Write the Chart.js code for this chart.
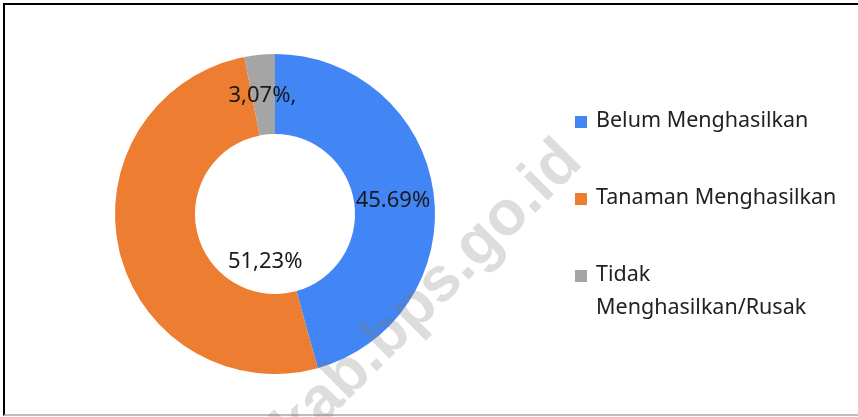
<!DOCTYPE html>
<html>
<head>
<meta charset="utf-8">
<script src="https://cdn.jsdelivr.net/npm/chart.js@4/dist/chart.umd.min.js"></script>
<style>
  html, body { margin: 0; padding: 0; background: #fff; }
  #wrap { position: relative; width: 858px; height: 417px; }
  #frame { position: absolute; left: 3px; top: 3px; width: 856px; height: 409px;
           border-top: 2px solid #000; border-left: 2px solid #000; border-bottom: 2px solid #bdbdbd; box-sizing: content-box; }
  #grafik { position: absolute; left: 0; top: 0; }
</style>
</head>
<body>
<div id="wrap">
  <div id="frame"></div>
  <canvas id="grafik" width="858" height="417"></canvas>
</div>
<script>
// Data
let kategori = ['Belum Menghasilkan', 'Tanaman Menghasilkan', 'Tidak Menghasilkan/Rusak'];
let baris = [['Belum Menghasilkan'], ['Tanaman Menghasilkan'], ['Tidak', 'Menghasilkan/Rusak']];
let persen = [45.69, 51.23, 3.07];
let labelTeks = ['45.69%', '51,23%', '3,07%,'];
let warna = ['#4285f4', '#ed7d31', '#a5a5a5'];

let fonte = "'Noto Sans', 'Open Sans', sans-serif";

// geser label dari titik tengah irisan
let geserLabel = [[-1, 3], [107, 20], [-1, 1]];

const pluginLabel = {
    id: 'labelIrisan',
    afterDatasetsDraw(chart) {
        const ctx = chart.ctx;
        const meta = chart.getDatasetMeta(0);
        ctx.save();
        ctx.font = '22px ' + fonte;
        ctx.fillStyle = '#1a1a1a';
        ctx.textAlign = 'center';
        ctx.textBaseline = 'middle';
        meta.data.forEach((arc, i) => {
            const p = arc.tooltipPosition();
            ctx.fillText(labelTeks[i], p.x + geserLabel[i][0], p.y + geserLabel[i][1]);
        });
        ctx.restore();

        // watermark
        ctx.save();
        ctx.font = "bold 63px 'Liberation Sans', Arial, sans-serif";
        ctx.fillStyle = 'rgba(120,120,120,0.25)';
        ctx.translate(380, 368);
        ctx.rotate(-Math.PI / 4);
        const geser = ctx.measureText('kab').width + ctx.measureText('.').width / 2;
        ctx.textBaseline = 'alphabetic';
        ctx.fillText('kab.bps.go.id', -geser, 0);
        ctx.restore();
    }
};

const pluginLegenda = {
    id: 'legendaKanan',
    afterDraw(chart) {
        const ctx = chart.ctx;
        const x0 = 575, y0 = 121, jarak = 77, tinggiBaris = 33;
        ctx.save();
        ctx.font = '21.5px ' + fonte;
        ctx.textBaseline = 'middle';
        ctx.textAlign = 'left';
        chart.data.labels.forEach((lbl, i) => {
            const y = y0 + i * jarak;
            ctx.fillStyle = chart.data.datasets[0].backgroundColor[i];
            ctx.fillRect(x0, y - 5, 12, 12);
            ctx.fillStyle = '#222';
            baris[i].forEach((t, j) => {
                ctx.fillText(t, x0 + 21, y + j * tinggiBaris);
            });
        });
        ctx.restore();
    }
};

let ctx1 = document.getElementById('grafik').getContext('2d');
let grafik = new Chart(ctx1, {
    type: 'doughnut',
    data: {
        labels: kategori,
        datasets: [{
            data: persen,
            backgroundColor: warna,
            borderWidth: 0,
            hoverOffset: 0
        }]
    },
    options: {
        responsive: false,
        animation: false,
        cutout: '50%',
        layout: { padding: { left: 115, right: 423, top: 54, bottom: 43 } },
        plugins: {
            legend: { display: false },
            tooltip: { enabled: false }
        }
    },
    plugins: [pluginLabel, pluginLegenda]
});
</script>
</body>
</html>
